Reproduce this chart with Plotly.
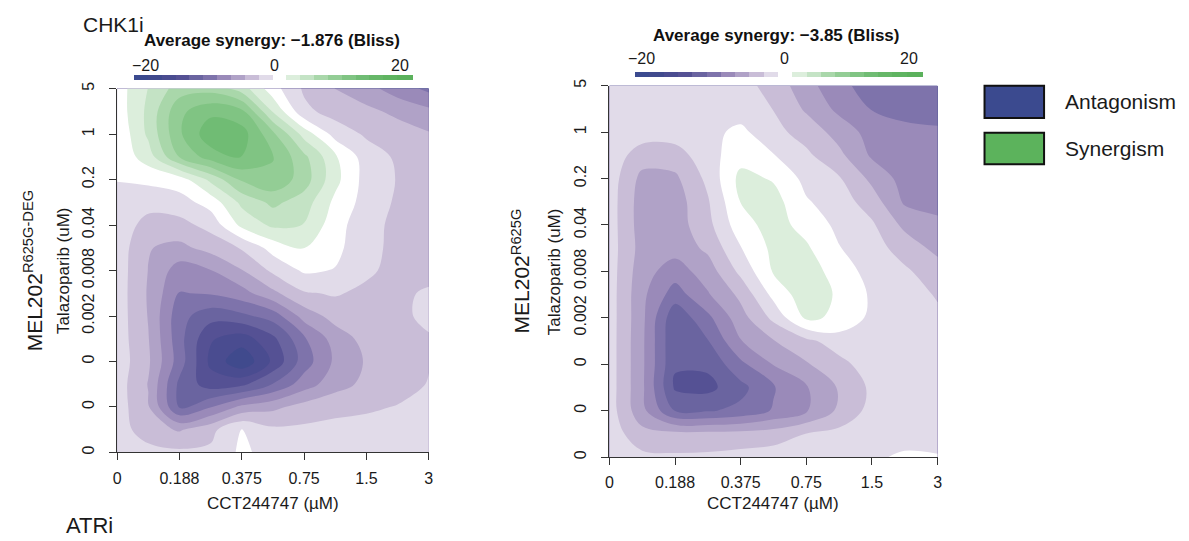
import plotly.graph_objects as go

# ---------------- data ----------------
x_tick_labels = ["0", "0.188", "0.375", "0.75", "1.5", "3"]
y_tick_labels = ["0", "0", "0", "0.002", "0.008", "0.04", "0.2", "1", "5"]
colorbar_ticks = [-20, 0, 20]
colorbar_tick_labels = ["−20", "0", "20"]

# grid positions (dose-index units, half steps)
grid_x = [0, 0.5, 1, 1.5, 2, 2.5, 3, 3.5, 4, 4.5, 5]
grid_y = [0, 0.5, 1, 1.5, 2, 2.5, 3, 3.5, 4, 4.5, 5, 5.5, 6, 6.5, 7, 7.5, 8]

# Bliss synergy, rows from bottom (y=0) to top (y=8)
left_z = [
    [-0.6, -1.2, -1.6, -1.6, 0.4, -0.8, -1.0, -1.0, -1.0, -0.9, -0.8],
    [-0.9, -3.2, -4.2, -2.6, 0.1, -1.6, -1.6, -1.4, -1.3, -1.1, -1.0],
    [-1.0, -3.8, -10.2, -8.1, -5.5, -4.5, -3.2, -2.6, -2.3, -1.9, -1.4],
    [-1.0, -4.1, -10.5, -13.0, -12.5, -9.9, -7.0, -4.8, -3.5, -2.8, -1.9],
    [-0.8, -3.7, -9.0, -14.5, -17.6, -13.6, -9.0, -5.6, -3.8, -3.0, -2.1],
    [-0.9, -3.9, -9.3, -13.8, -15.0, -12.5, -8.3, -5.1, -3.3, -2.7, -2.2],
    [-0.9, -4.1, -9.3, -11.2, -10.5, -9.1, -5.2, -3.2, -2.8, -2.5, -1.5],
    [-0.9, -4.2, -8.1, -7.8, -6.8, -4.5, -2.2, -1.8, -2.5, -2.6, -1.6],
    [-0.9, -4.05, -7.0, -6.1, -4.1, -1.6, 0.3, -0.1, -1.6, -2.7, -3.0],
    [-0.8, -3.9, -4.5, -3.3, -1.8, 0.8, 2.1, 0.5, -1.3, -2.6, -3.0],
    [-1.0, -2.6, -2.7, -1.3, 2.5, 4.4, 3.95, 0.8, -1.3, -2.5, -3.0],
    [-1.0, -1.4, -0.8, 0.8, 4.5, 6.5, 5.0, 1.5, -0.8, -2.3, -3.0],
    [0.1, 0.5, 1.0, 4.5, 8.3, 9.6, 7.0, 2.6, -0.8, -2.1, -3.0],
    [0.5, 3.0, 8.1, 11.0, 12.1, 10.1, 6.5, 2.3, -1.0, -2.3, -3.0],
    [0.3, 4.4, 9.7, 13.3, 12.9, 8.5, 3.2, -0.8, -2.3, -3.0, -3.8],
    [0.8, 4.5, 9.5, 11.5, 10.5, 3.8, -1.5, -2.8, -3.5, -4.5, -5.5],
    [1.0, 4.05, 7.0, 7.2, 5.0, 0.8, -2.3, -4.05, -5.3, -7.0, -8.5],
]

right_z = [
    [-0.5, -1.5, -1.7, -1.6, -1.3, -1.0, -0.8, -0.6, -0.3, 0.3, 0.1],
    [-0.9, -3.3, -3.4, -3.4, -3.3, -3.0, -1.95, -1.4, -1.0, -0.8, -0.6],
    [-1.0, -5.4, -10.1, -10.2, -9.5, -7.8, -6.2, -3.6, -1.3, -0.8, -0.8],
    [-1.0, -5.6, -12.3, -12.6, -10.6, -8.2, -6.2, -3.8, -1.6, -0.8, -0.8],
    [-1.0, -5.6, -11.8, -11.6, -8.5, -5.9, -4.2, -2.6, -1.0, -0.8, -0.8],
    [-1.0, -5.6, -11.8, -10.1, -6.1, -4.1, -2.5, -1.0, -0.7, -0.7, -1.2],
    [-1.0, -5.5, -11.5, -8.5, -4.8, -1.5, 2.4, 1.6, -0.5, -0.9, -1.6],
    [-1.0, -5.5, -9.0, -6.2, -3.5, 0.6, 3.2, 1.7, -0.3, -1.0, -2.2],
    [-1.0, -5.2, -7.0, -5.0, -1.5, 2.2, 3.0, 1.1, -0.8, -1.7, -3.0],
    [-1.0, -4.8, -5.2, -3.6, -0.1, 2.5, 2.3, 0.1, -1.2, -2.8, -4.6],
    [-1.0, -5.0, -5.0, -2.6, 1.2, 2.8, 1.3, -0.5, -1.7, -4.5, -5.3],
    [-1.0, -5.0, -5.0, -2.2, 2.05, 2.8, 0.2, -1.0, -3.0, -6.3, -7.0],
    [-0.9, -4.6, -4.4, -1.5, 2.6, 1.8, -0.6, -1.8, -4.5, -6.8, -7.2],
    [-0.8, -3.0, -2.9, -0.8, 1.2, 0.1, -1.6, -3.5, -6.3, -7.0, -7.2],
    [-0.8, -1.0, -1.0, -0.6, 0.5, -1.4, -2.8, -4.8, -6.8, -7.6, -7.7],
    [-0.8, -0.9, -0.9, -0.8, -1.0, -2.05, -4.3, -6.5, -8.1, -8.5, -8.8],
    [-0.4, -1.0, -1.0, -1.0, -1.2, -2.8, -5.2, -7.5, -8.8, -9.5, -9.8],
]

left_avg = "−1.876"
right_avg = "−3.85"

# ---------------- styling ----------------
W, H = 1189, 541
FONT = "Liberation Sans, Arial, Helvetica, sans-serif"
TXT = "#1a1a1a"

band_colors = [
    "#3B4A8F", "#404A8D", "#4A4C90", "#555194", "#6A64A0",
    "#7E73AB", "#9A8AB9", "#B0A2C7", "#C9BDD7", "#E1DBE9",
    "#FFFFFF",
    "#DCEEDC", "#C4E3C5", "#A9D7AA", "#93CD95", "#80C483",
    "#70BC74", "#66B768", "#5FB461", "#5BB15C",
]
colorscale = []
n = len(band_colors)
for i, c in enumerate(band_colors):
    colorscale.append([i / n, c])
    colorscale.append([(i + 1) / n, c])


def px(x):
    return x / W


def py(y):
    return 1 - y / H


panels = [
    dict(z=left_z, xa="x", ya="y", xr=(114, 428), yr=(83, 453),
         cb_left=132, cb_len=277, cb_bottom=74, cb_lab_y=59, cb_lab_x=[143, 273, 399],
         avg=left_avg, title_x=270, title_y=34, ylab_x=60, mel_x=29,
         mel="MEL202<sup>R625G-DEG</sup>"),
    dict(z=right_z, xa="x2", ya="y2", xr=(610, 940.7), yr=(80, 457.7),
         cb_left=637, cb_len=286, cb_bottom=71, cb_lab_y=52, cb_lab_x=[642, 786, 912],
         avg=right_avg, title_x=778, title_y=29, ylab_x=555, mel_x=521,
         mel="MEL202<sup>R625G</sup>"),
]

fig = go.Figure()
annotations = []
shapes = []
layout_axes = {}

for k, p in enumerate(panels):
    fig.add_trace(go.Contour(
        x=grid_x, y=grid_y, z=p["z"],
        xaxis=p["xa"], yaxis=p["ya"],
        zmin=-20, zmax=20,
        colorscale=colorscale,
        contours=dict(start=-20, end=20, size=2, coloring="fill", showlines=False),
        line=dict(width=0, smoothing=1.0),
        hoverinfo="skip",
        colorbar=dict(
            orientation="h",
            x=px(p["cb_left"] + p["cb_len"] / 2), xanchor="center",
            y=py(p["cb_bottom"]), yanchor="bottom",
            len=p["cb_len"], lenmode="pixels",
            thickness=5, thicknessmode="pixels",
            xpad=0, ypad=0,
            outlinewidth=0,
            tickvals=colorbar_ticks,
            ticks="", showticklabels=False,
        ),
    ))
    # colorbar tick labels (drawn above the bar as in the reference)
    for lab, lx in zip(colorbar_tick_labels, p["cb_lab_x"]):
        annotations.append(dict(text=lab, x=px(lx), y=py(p["cb_lab_y"]), xref="paper", yref="paper",
                                xanchor="center", yanchor="middle", showarrow=False,
                                font=dict(family=FONT, size=16, color=TXT)))

    xname = "xaxis" if k == 0 else "xaxis2"
    yname = "yaxis" if k == 0 else "yaxis2"
    layout_axes[xname] = dict(
        domain=[px(p["xr"][0]), px(p["xr"][1])],
        range=[0, 5], anchor=p["ya"],
        tickmode="array", tickvals=list(range(6)), ticktext=x_tick_labels,
        ticks="outside", ticklen=7, tickwidth=1, tickcolor="#333",
        showline=True, linecolor="#333", linewidth=1,
        showgrid=False, zeroline=False,
        tickfont=dict(family=FONT, size=16, color=TXT),
        ticklabelstandoff=4,
    )
    layout_axes[yname] = dict(
        domain=[py(p["yr"][1]), py(p["yr"][0])],
        range=[0, 8], anchor=p["xa"],
        tickmode="array", tickvals=list(range(9)), ticktext=y_tick_labels,
        tickangle=-90,
        ticks="outside", ticklen=7, tickwidth=1, tickcolor="#333",
        showline=True, linecolor="#333", linewidth=1,
        showgrid=False, zeroline=False,
        tickfont=dict(family=FONT, size=16, color=TXT),
        ticklabelstandoff=9,
    )
    xc = (p["xr"][0] + p["xr"][1]) / 2
    yc = (p["yr"][0] + p["yr"][1]) / 2
    annotations += [
        dict(text="<b>Average synergy: " + p["avg"] + " (Bliss)</b>",
             x=px(p["title_x"]), y=py(p["title_y"]), xref="paper", yref="paper",
             xanchor="center", yanchor="middle", showarrow=False,
             font=dict(family=FONT, size=17, color="#111")),
        dict(text="CCT244747 (µM)", x=px(xc), y=py(505), xref="paper", yref="paper",
             xanchor="center", yanchor="middle", showarrow=False,
             font=dict(family=FONT, size=17, color=TXT)),
        dict(text="Talazoparib (uM)", x=px(p["ylab_x"]), y=py(yc), xref="paper", yref="paper",
             xanchor="center", yanchor="middle", textangle=-90, showarrow=False,
             font=dict(family=FONT, size=17, color=TXT)),
        dict(text=p["mel"], x=px(p["mel_x"]), y=py(yc), xref="paper", yref="paper",
             xanchor="center", yanchor="middle", textangle=-90, showarrow=False,
             font=dict(family=FONT, size=21, color=TXT)),
    ]

annotations += [
    dict(text="CHK1i", x=px(78), y=py(18), xref="paper", yref="paper",
         xanchor="left", yanchor="middle", showarrow=False,
         font=dict(family=FONT, size=21, color=TXT)),
    dict(text="ATRi", x=px(112), y=py(527), xref="paper", yref="paper",
         xanchor="right", yanchor="middle", showarrow=False,
         font=dict(family=FONT, size=22, color=TXT)),
]

legend_items = [("Antagonism", "#3B4A8F", 80, 113), ("Synergism", "#5CB35C", 128, 160)]
for label, col, y0, y1 in legend_items:
    shapes.append(dict(type="rect", xref="paper", yref="paper",
                       x0=px(988), x1=px(1048), y0=py(y1), y1=py(y0),
                       fillcolor=col, line=dict(color="#111", width=2)))
    annotations.append(dict(text=label, x=px(1067), y=py((y0 + y1) / 2), xref="paper", yref="paper",
                            xanchor="left", yanchor="middle", showarrow=False,
                            font=dict(family=FONT, size=21, color=TXT)))

fig.update_layout(
    width=W, height=H,
    margin=dict(l=0, r=0, t=0, b=0),
    paper_bgcolor="white", plot_bgcolor="white",
    showlegend=False,
    annotations=annotations, shapes=shapes,
    font=dict(family=FONT),
    **layout_axes,
)

fig.write_html("out.html")
